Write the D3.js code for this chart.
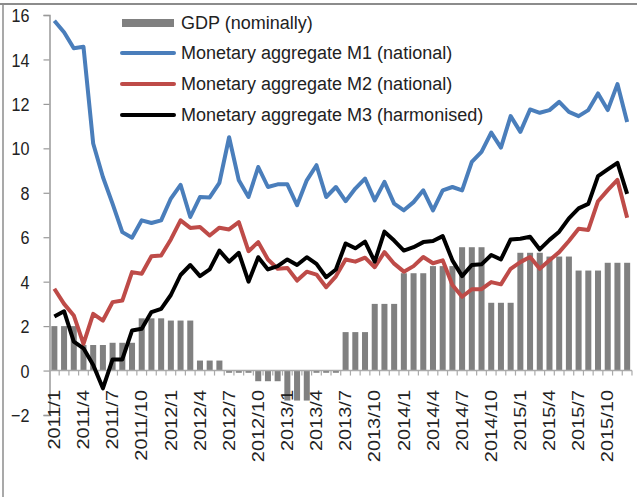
<!DOCTYPE html>
<html>
<head>
<meta charset="utf-8">
<script src="https://cdn.jsdelivr.net/npm/d3@7/dist/d3.min.js"></script>
<style>
  html, body { margin: 0; padding: 0; background: #fff; }
  svg { display: block; font-family: "Liberation Sans", Arial, sans-serif; }
</style>
</head>
<body>
<script>
const months = [
  "2011/1","2011/2","2011/3","2011/4","2011/5","2011/6","2011/7","2011/8","2011/9","2011/10","2011/11","2011/12",
  "2012/1","2012/2","2012/3","2012/4","2012/5","2012/6","2012/7","2012/8","2012/9","2012/10","2012/11","2012/12",
  "2013/1","2013/2","2013/3","2013/4","2013/5","2013/6","2013/7","2013/8","2013/9","2013/10","2013/11","2013/12",
  "2014/1","2014/2","2014/3","2014/4","2014/5","2014/6","2014/7","2014/8","2014/9","2014/10","2014/11","2014/12",
  "2015/1","2015/2","2015/3","2015/4","2015/5","2015/6","2015/7","2015/8","2015/9","2015/10","2015/11","2015/12"
];

const gdp = [
  2.0, 2.0, 2.0, 1.15, 1.15, 1.15, 1.25, 1.25, 1.25, 2.35, 2.35, 2.35,
  2.25, 2.25, 2.25, 0.45, 0.45, 0.45, -0.1, -0.1, -0.1, -0.48, -0.48, -0.48,
  -1.35, -1.35, -1.35, -0.1, -0.1, -0.1, 1.73, 1.73, 1.73, 3.0, 3.0, 3.0,
  4.38, 4.38, 4.38, 4.7, 4.7, 4.7, 5.55, 5.55, 5.55, 3.05, 3.05, 3.05,
  5.3, 5.3, 5.3, 5.13, 5.13, 5.13, 4.5, 4.5, 4.5, 4.85, 4.85, 4.85
];

const m1 = [
  15.74, 15.22, 14.5, 14.57, 10.22, 8.71, 7.5, 6.23, 5.98, 6.76, 6.64, 6.76,
  7.74, 8.36, 6.91, 7.81, 7.79, 8.45, 10.5, 8.56, 7.81, 9.16, 8.26, 8.38,
  8.38, 7.44, 8.56, 9.24, 7.81, 8.26, 7.62, 8.19, 8.64, 7.66, 8.49, 7.51,
  7.21, 7.58, 8.11, 7.21, 8.11, 8.26, 8.11, 9.39, 9.84, 10.71, 10.03, 11.45,
  10.74, 11.75, 11.6, 11.72, 12.09, 11.64, 11.45, 11.72, 12.47, 11.72, 12.89, 11.19
];

const m2 = [
  3.68, 3.0, 2.48, 1.2, 2.55, 2.25, 3.08, 3.15, 4.43, 4.36, 5.14, 5.18,
  5.9, 6.76, 6.42, 6.46, 6.08, 6.43, 6.35, 6.68, 5.37, 5.78, 5.0, 4.58,
  4.62, 4.05, 4.45, 4.32, 3.75, 4.24, 5.0, 4.9, 5.08, 4.65, 5.33, 4.81,
  4.45, 4.7, 5.11, 4.83, 4.96, 3.85, 3.32, 3.66, 3.66, 3.98, 3.88, 4.58,
  4.88, 5.11, 4.58, 4.96, 5.33, 5.83, 6.38, 6.33, 7.62, 8.12, 8.58, 6.88
];

const m3 = [
  2.43, 2.67, 1.3, 1.0, 0.25, -0.8, 0.5, 0.5, 1.8, 1.88, 2.63, 2.78,
  3.4, 4.3, 4.75, 4.25, 4.55, 5.4, 4.9, 5.3, 4.0, 5.1, 4.55, 4.7,
  5.0, 4.75, 5.1, 4.8, 4.2, 4.55, 5.72, 5.5, 5.8, 4.9, 6.25, 5.85,
  5.4, 5.55, 5.78, 5.83, 6.05, 4.96, 4.25, 4.75, 4.78, 5.2, 5.0, 5.9,
  5.93, 6.02, 5.45, 5.88, 6.25, 6.85, 7.3, 7.5, 8.75, 9.05, 9.35, 7.95
];

const yTicks = [-2, 0, 2, 4, 6, 8, 10, 12, 14, 16];

const seriesNames = [
  "GDP (nominally)",
  "Monetary aggregate M1 (national)",
  "Monetary aggregate M2 (national)",
  "Monetary aggregate M3 (harmonised)"
];
const lineSeries = [
  { name: seriesNames[1], values: m1, color: "#4a7ebb" },
  { name: seriesNames[2], values: m2, color: "#be4b48" },
  { name: seriesNames[3], values: m3, color: "#000000" }
];

const W = 637, H = 497;
const svg = d3.select("body").append("svg").attr("width", W).attr("height", H);
svg.append("rect").attr("width", W).attr("height", H).attr("fill", "#fff");

// frame
svg.append("line").attr("x1", 0).attr("x2", W).attr("y1", 4).attr("y2", 4)
  .attr("stroke", "#8c8c8c").attr("stroke-width", 2);
svg.append("line").attr("x1", 3).attr("x2", 3).attr("y1", 4).attr("y2", H)
  .attr("stroke", "#8c8c8c").attr("stroke-width", 1.5);

const left = 49.5, right = 632;
const x = d3.scaleBand().domain(months).range([left, right])
  .paddingInner(0.38).paddingOuter(0.19);
const y = d3.scaleLinear().domain([-2, 16]).range([415, 15]);
const cx = d => x(d) + x.bandwidth() / 2;
const step = x.step();

// bars
svg.append("g").selectAll("rect").data(months).join("rect")
  .attr("x", d => x(d))
  .attr("width", x.bandwidth())
  .attr("y", (d, i) => Math.min(y(gdp[i]), y(0)))
  .attr("height", (d, i) => Math.abs(y(gdp[i]) - y(0)))
  .attr("fill", "#808080");

// y axis
const yAxis = d3.axisLeft(y).tickValues(yTicks).tickSize(6).tickPadding(14)
  .tickFormat(d3.format("d"));
const gy = svg.append("g").attr("transform", `translate(${left},0)`).call(yAxis);
gy.select(".domain").attr("stroke", "#999").attr("stroke-width", 1.5);
gy.selectAll(".tick line").attr("stroke", "#999").attr("stroke-width", 1.2);
gy.selectAll(".tick text").remove();
gy.selectAll(".tick").append("text")
  .attr("transform", "translate(-20,0) scale(0.85,1)")
  .attr("text-anchor", "end")
  .attr("dy", "0.35em")
  .attr("font-size", 19)
  .attr("fill", "#222")
  .attr("font-family", "Liberation Sans, Arial, sans-serif")
  .text(d => d3.format("d")(d));

// x axis line at zero with ticks between categories
const gx = svg.append("g");
gx.append("line").attr("x1", left).attr("x2", right).attr("y1", y(0)).attr("y2", y(0))
  .attr("stroke", "#aaa").attr("stroke-width", 1.5);
gx.selectAll("line.tk").data(months).join("line").attr("class", "tk")
  .attr("x1", d => x(d) - x.bandwidth() * 0.31 + step)
  .attr("x2", d => x(d) - x.bandwidth() * 0.31 + step)
  .attr("y1", y(0)).attr("y2", y(0) + 5)
  .attr("stroke", "#aaa").attr("stroke-width", 1.2);

// x labels
const labelMonths = months.filter((d, i) => i % 3 === 0);
svg.append("g").selectAll("text").data(labelMonths).join("text")
  .attr("transform", d => `translate(${cx(d)},390) rotate(-90) scale(1,0.82)`)
  .attr("text-anchor", "end")
  .attr("dy", "0.35em")
  .attr("font-size", 20)
  .attr("fill", "#222")
  .text(d => d);

// lines
const line = d3.line().x((v, i) => cx(months[i])).y(v => y(v));
svg.append("g").selectAll("path").data(lineSeries).join("path")
  .attr("d", s => line(s.values))
  .attr("fill", "none")
  .attr("stroke", s => s.color)
  .attr("stroke-width", 4)
  .attr("stroke-linejoin", "round");

// legend
const lg = svg.append("g");
const lx1 = 122, lx2 = 174, rowY = [23, 53, 84, 115];
lg.append("rect").attr("x", lx1).attr("y", rowY[0] - 4).attr("width", lx2 - lx1).attr("height", 8)
  .attr("fill", "#808080");
lineSeries.forEach((s, i) => {
  lg.append("line").attr("x1", lx1).attr("x2", lx2).attr("y1", rowY[i + 1]).attr("y2", rowY[i + 1])
    .attr("stroke", s.color).attr("stroke-width", 4).attr("stroke-linecap", "round");
});
seriesNames.forEach((n, i) => {
  lg.append("text").attr("x", 181).attr("y", rowY[i]).attr("dy", "0.35em")
    .attr("font-size", 18).attr("fill", "#222").text(n);
});
</script>
</body>
</html>
